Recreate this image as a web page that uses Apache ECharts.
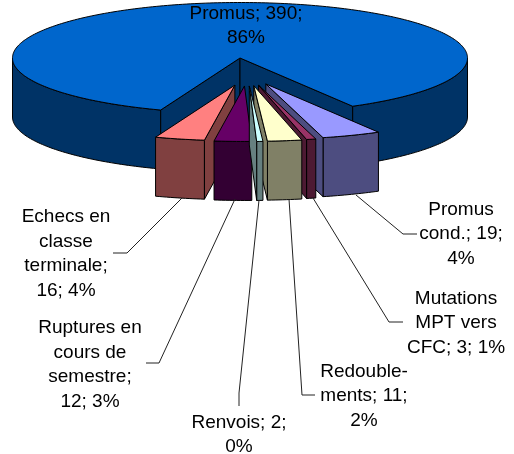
<!DOCTYPE html>
<html>
<head>
<meta charset="utf-8">
<style>html,body{margin:0;padding:0;background:#fff}#c{width:514px;height:454px}</style>
<script src="https://cdn.jsdelivr.net/npm/echarts@6/dist/echarts.min.js"></script>
</head>
<body>
<div id="c"></div>
<script>
// Data (clockwise from the top-left corner of the big slice)
const categories = ['Promus', 'Promus cond.', 'Mutations MPT vers CFC', 'Redoublements', 'Renvois', 'Ruptures en cours de semestre', 'Echecs en classe terminale'];
const values = [390, 19, 3, 11, 2, 12, 16];
const labelTexts = [
  'Promus; 390;\n86%',
  'Promus\ncond.; 19;\n4%',
  'Mutations\nMPT vers\nCFC; 3; 1%',
  'Redouble-\nments; 11;\n2%',
  'Renvois; 2;\n0%',
  'Ruptures en\ncours de\nsemestre;\n12; 3%',
  'Echecs en\nclasse\nterminale;\n16; 4%'
];
const topColors = ['#0066CC', '#9999FF', '#993366', '#FFFFCC', '#CCFFFF', '#660066', '#FF8080'];
const sideColors = ['#003366', '#4D4D80', '#4D1A33', '#808066', '#668080', '#330033', '#804040'];

// Layout of the picture
const CX = 240, CY = 58, RX = 227.5, RY = 55.5, DEPTH = 59;
const START = 200.4;
const EXPLODE_X = 50, EXPLODE_Y = 28, EXPLODE_SHIFT = 7;
const labelCenters = [[246, 26], [461, 234], [456, 323], [364, 396], [239, 435], [90, 365], [66, 254]];
const leaders = [
  null,
  [[356, 195], [403, 234], [417, 234]],
  [[313, 198], [389, 322], [403, 322]],
  [[289, 199], [302, 395], [315, 395]],
  [[259, 200], [239, 393], [239, 406]],
  [[235, 199], [159, 363], [146, 363]],
  [[182, 198], [127, 253], [113, 253]]
];

const total = values.reduce((a, b) => a + b, 0);
const rad = d => d * Math.PI / 180;
const pt = (a, c, r = 1) => [c[0] + r * RX * Math.sin(rad(a)), c[1] - r * RY * Math.cos(rad(a))];
const down = p => [p[0], p[1] + DEPTH];

let acc = START;
const slices = values.map((v, i) => {
  const a0 = acc, a1 = acc + v / total * 360;
  acc = a1;
  return { i, a0, a1, mid: ((a0 + a1) / 2) % 360 };
});
// painter's order: big slice first, then outer slices towards the middle
const order = slices.slice().sort((p, q) => {
  if (p.i === 0) return -1;
  if (q.i === 0) return 1;
  return Math.abs(q.mid - 180) - Math.abs(p.mid - 180);
});

const poly = (points, fill) => ({
  type: 'polygon',
  shape: { points },
  style: { fill, stroke: '#000', lineWidth: 1, lineJoin: 'round' }
});

function arcPts(a0, a1, c) {
  const pts = [], n = Math.max(2, Math.ceil(Math.abs(a1 - a0)));
  for (let k = 0; k <= n; k++) pts.push(pt(a0 + (a1 - a0) * k / n, c));
  return pts;
}

function sidePoly(a0, a1, c, fill) {
  const top = arcPts(a0, a1, c);
  return poly(top.concat(top.map(down).reverse()), fill);
}

function renderSlice(params, api) {
  const s = slices[api.value(0)];
  const side = sideColors[s.i], top = topColors[s.i];
  const th = 180 - s.mid;
  const c = s.i === 0 ? [CX, CY] : [
    CX + EXPLODE_SHIFT + EXPLODE_X * Math.sin(rad(th)),
    CY + EXPLODE_Y * Math.cos(rad(th))
  ];
  const children = [];
  const face = a => {
    const e = pt(a, c);
    children.push(poly([c, down(c), down(e), e], side));
  };
  const sa0 = ((s.a0 % 360) + 360) % 360, sa1 = ((s.a1 % 360) + 360) % 360;
  if (s.i === 0) {
    children.push(sidePoly(90, sa1, c, side));
    children.push(sidePoly(sa0, 270, c, side));
  } else {
    children.push(sidePoly(s.a0, s.a1, c, side));
  }
  if (sa0 > 180) face(sa0);
  if (sa1 < 180) face(sa1);
  children.push(poly([c].concat(arcPts(s.a0, s.a1, c)), top));
  return { type: 'group', children };
}

function renderLabel(params, api) {
  const i = api.value(0);
  const children = [];
  if (leaders[i]) {
    children.push({
      type: 'polyline',
      shape: { points: leaders[i] },
      style: { fill: 'none', stroke: '#222', lineWidth: 1 }
    });
  }
  children.push({
    type: 'text',
    x: labelCenters[i][0],
    y: labelCenters[i][1],
    style: {
      text: labelTexts[i],
      align: 'center',
      verticalAlign: 'middle',
      fontFamily: '"Liberation Sans", Arial, sans-serif',
      fontSize: 19,
      lineHeight: 24.5,
      fill: '#000'
    }
  });
  return { type: 'group', children };
}

const chart = echarts.init(document.getElementById('c'), null, { renderer: 'canvas', width: 514, height: 454 });
chart.setOption({
  animation: false,
  backgroundColor: '#fff',
  series: [
    {
      type: 'custom',
      coordinateSystem: 'none',
      silent: true,
      z: 2,
      renderItem: renderSlice,
      data: order.map(s => ({ name: categories[s.i], value: [s.i, values[s.i]] }))
    },
    {
      type: 'custom',
      coordinateSystem: 'none',
      silent: true,
      z: 3,
      renderItem: renderLabel,
      data: slices.map(s => ({ name: categories[s.i], value: [s.i, values[s.i]] }))
    }
  ]
});
</script>
</body>
</html>
